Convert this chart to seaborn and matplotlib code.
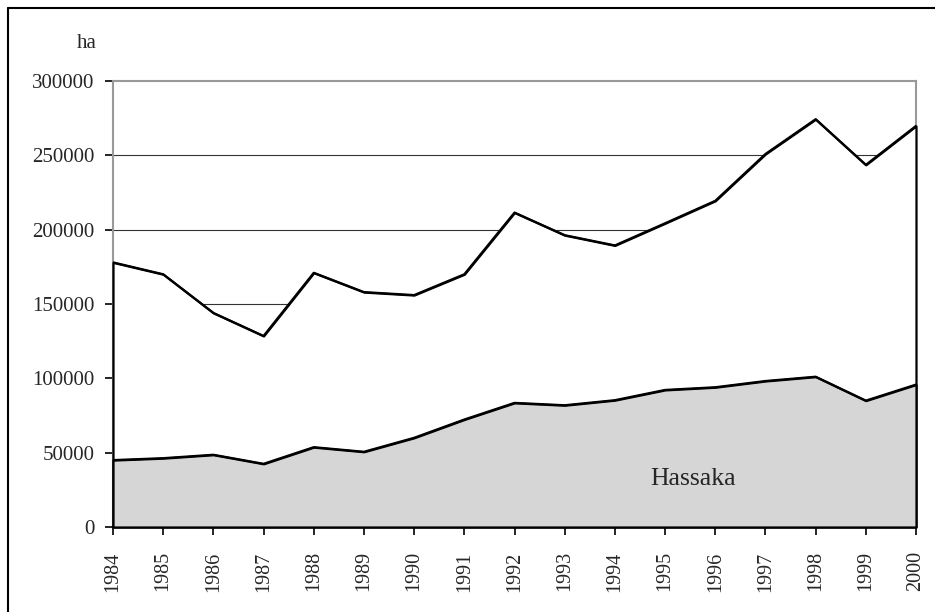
import matplotlib
matplotlib.use("Agg")
import matplotlib.pyplot as plt
import seaborn as sns
import pandas as pd
from matplotlib.lines import Line2D

# data (hectares)
years = list(range(1984, 2001))
total_area = [178000, 170000, 144000, 128500, 171000, 158000, 156000, 170000, 211500,
              196300, 189400, 204300, 219400, 250900, 274300, 243600, 269800]
hassaka_area = [45000, 46300, 48600, 42500, 53700, 50600, 60000, 72300, 83500,
                81900, 85300, 92200, 94000, 98200, 101100, 85000, 95800]
y_ticks = [0, 50000, 100000, 150000, 200000, 250000, 300000]

df = pd.DataFrame({"year": years, "total": total_area, "hassaka": hassaka_area})

sns.set_style("white")
plt.rcParams["font.family"] = ["Liberation Serif", "DejaVu Serif"]

fig = plt.figure(figsize=(9.35, 6.12), dpi=100)
ax = fig.add_axes([113 / 935, 1 - 527 / 612, (916 - 113) / 935, (527 - 81) / 612])

# horizontal gridlines sit behind the area fills
for y in y_ticks[1:-1]:
    ax.axhline(y, color="#333333", lw=0.8, zorder=0)

# white total area on top, grey Hassaka area below; drawn above the grey spines
ax.fill_between(df["year"], 0, df["total"], facecolor="white", edgecolor="black",
                lw=1.6, zorder=3, clip_on=False)
ax.fill_between(df["year"], 0, df["hassaka"], facecolor="#d6d6d6", edgecolor="black",
                lw=1.6, zorder=3.1, clip_on=False)
sns.lineplot(data=df, x="year", y="total", color="black", lw=1.6, ax=ax, zorder=4)
sns.lineplot(data=df, x="year", y="hassaka", color="black", lw=1.6, ax=ax, zorder=4)

ax.set_xlim(1984, 2000)
ax.set_ylim(0, 300000)
ax.set_xticks(years)
ax.set_xticklabels([str(y) for y in years], rotation=90, fontsize=14.5)
ax.set_yticks(y_ticks)
ax.set_yticklabels([str(v) for v in y_ticks], fontsize=15)
ax.set_xlabel("")
ax.set_ylabel("")
ax.tick_params(axis="both", direction="out", length=5.5, width=1.2, color="black",
               bottom=True, left=True)
ax.tick_params(axis="x", pad=12)
ax.tick_params(axis="y", pad=8)

for side in ["top", "right", "left"]:
    ax.spines[side].set_color("#999999")
    ax.spines[side].set_linewidth(1.5)
    ax.spines[side].set_visible(True)
ax.spines["bottom"].set_color("black")
ax.spines["bottom"].set_linewidth(1.6)

ax.text(1995.55, 28200, "Hassaka", fontsize=18.5, ha="center", va="baseline", zorder=5)
fig.text(87 / 935, 1 - 43 / 612, "ha", fontsize=15, ha="center", va="center")

# outer frame of the original figure (left and top edges only)
fig.add_artist(Line2D([8 / 935, 8 / 935], [0, 1 - 8 / 612], color="black", lw=1.5,
                      transform=fig.transFigure))
fig.add_artist(Line2D([8 / 935, 1], [1 - 8 / 612, 1 - 8 / 612], color="black", lw=1.5,
                      transform=fig.transFigure))

fig.savefig("out.png", dpi=100, facecolor="white")
